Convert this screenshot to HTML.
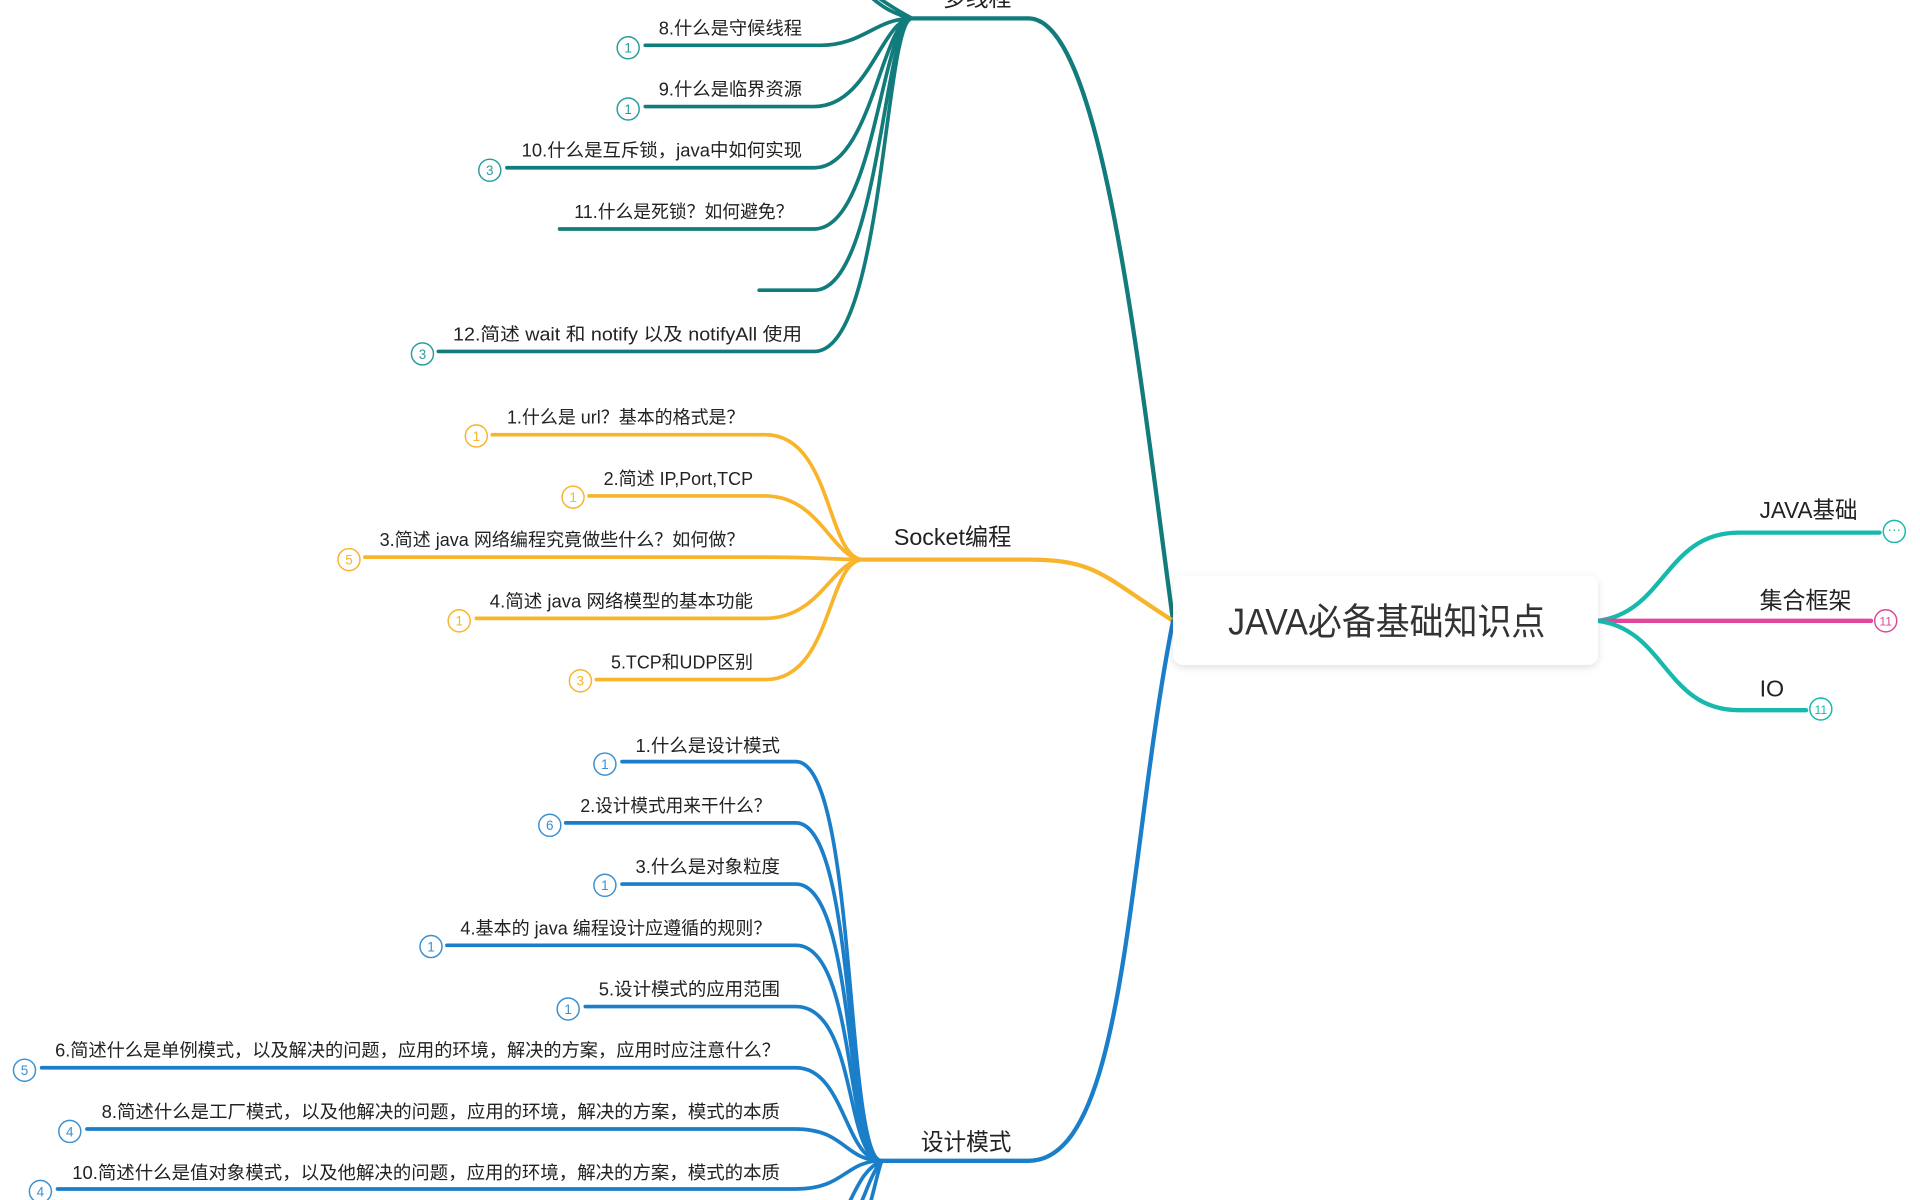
<!DOCTYPE html>
<html><head><meta charset="utf-8"><style>
html,body{margin:0;padding:0;background:#fff;width:1920px;height:1200px;overflow:hidden}
svg{display:block}
text{font-family:"Liberation Sans","Noto Sans CJK SC",sans-serif;fill:#222}
.l{font-size:15px}
.b{font-size:19px}
.c{font-size:11px;text-anchor:middle}
</style></head><body>
<svg width="1920" height="1200" viewBox="0 0 1568 980" xmlns="http://www.w3.org/2000/svg">
<defs><filter id="sh" x="-10%" y="-20%" width="120%" height="150%"><feDropShadow dx="0" dy="2" stdDeviation="3" flood-color="#000" flood-opacity="0.12"/></filter></defs>
<g fill="none" stroke-linecap="round">
<g stroke="#127b7b" stroke-width="3">
<path d="M958,507 C930,300 900,15 840,15 H745" stroke-width="3.5"/>
<path d="M527,37 H670 C705,37 715,15 745,15"/>
<path d="M527,87 H665 C710,87 720,15 745,15"/>
<path d="M414,137 H665 C712,137 720,15 745,15"/>
<path d="M457,187 H665 C715,187 720,15 745,15"/>
<path d="M620,237 H665 C718,237 722,15 745,15"/>
<path d="M358,287 H665 C722,287 722,15 745,15"/>
<path d="M745,15 C725,5 715,-5 700,-12"/>
<path d="M745,15 C720,10 710,-5 690,-20"/>
</g>
<g stroke="#f8b42a" stroke-width="3">
<path d="M958,507 C900,470 895,457 840,457 H705" stroke-width="3.5"/>
<path d="M402,355 H625 C680,355 675,457 705,457"/>
<path d="M481,405 H625 C670,405 680,457 705,457"/>
<path d="M298,455 H625 C670,455 680,457 705,457"/>
<path d="M389,505 H625 C670,505 680,457 705,457"/>
<path d="M487,555 H625 C680,555 675,457 705,457"/>
</g>
<g stroke="#1a7ec9" stroke-width="3">
<path d="M958,507 C920,700 920,948 840,948 H720" stroke-width="3.5"/>
<path d="M508,622 H650 C700,622 690,948 720,948"/>
<path d="M462,672 H650 C700,672 690,948 720,948"/>
<path d="M508,722 H650 C700,722 690,948 720,948"/>
<path d="M365,772 H650 C700,772 690,948 720,948"/>
<path d="M478,822 H650 C700,822 690,948 720,948"/>
<path d="M34,872 H650 C690,872 690,948 720,948"/>
<path d="M71,922 H650 C690,922 690,948 720,948"/>
<path d="M47,971 H650 C690,971 690,948 720,948"/>
<path d="M720,948 C705,955 700,970 692,985"/>
<path d="M720,948 C712,958 708,972 702,985"/>
<path d="M720,948 C716,960 714,972 710,985"/>
</g>
<path d="M1305,507 C1360,500 1360,435 1420,435 H1535" stroke="#17b9ac" stroke-width="3.5"/>
<path d="M1305,507 H1528" stroke="#e0479a" stroke-width="3.5"/>
<path d="M1305,507 C1360,514 1360,580 1420,580 H1475" stroke="#17b9ac" stroke-width="3.5"/>
</g>
<rect x="958" y="470" width="347" height="73" rx="8" fill="#fff" filter="url(#sh)"/>
<text x="1003" y="518" style="font-size:30px;fill:#333" textLength="259" lengthAdjust="spacingAndGlyphs">JAVA必备基础知识点</text>
<text class="b" x="1437" y="423" textLength="80" lengthAdjust="spacingAndGlyphs">JAVA基础</text>
<text class="b" x="1437" y="497" textLength="75" lengthAdjust="spacingAndGlyphs">集合框架</text>
<text class="b" x="1437" y="569">IO</text>
<text class="b" x="770" y="5" textLength="56" lengthAdjust="spacingAndGlyphs">多线程</text>
<text class="b" x="730" y="445" textLength="96" lengthAdjust="spacingAndGlyphs">Socket编程</text>
<text class="b" x="752" y="939" textLength="74" lengthAdjust="spacingAndGlyphs">设计模式</text>
<g class="l">
<text class="l" x="538" y="28" textLength="117" lengthAdjust="spacingAndGlyphs">8.什么是守候线程</text>
<text class="l" x="538" y="78" textLength="117" lengthAdjust="spacingAndGlyphs">9.什么是临界资源</text>
<text class="l" x="426" y="128" textLength="229" lengthAdjust="spacingAndGlyphs">10.什么是互斥锁，java中如何实现</text>
<text class="l" x="469" y="178" textLength="179" lengthAdjust="spacingAndGlyphs">11.什么是死锁？如何避免？</text>
<text class="l" x="370" y="278" textLength="285" lengthAdjust="spacingAndGlyphs">12.简述 wait 和 notify 以及 notifyAll 使用</text>
<text class="l" x="414" y="346" textLength="194" lengthAdjust="spacingAndGlyphs">1.什么是 url？基本的格式是？</text>
<text class="l" x="493" y="396" textLength="122" lengthAdjust="spacingAndGlyphs">2.简述 IP,Port,TCP</text>
<text class="l" x="310" y="446" textLength="298" lengthAdjust="spacingAndGlyphs">3.简述 java 网络编程究竟做些什么？如何做？</text>
<text class="l" x="400" y="496" textLength="215" lengthAdjust="spacingAndGlyphs">4.简述 java 网络模型的基本功能</text>
<text class="l" x="499" y="546" textLength="116" lengthAdjust="spacingAndGlyphs">5.TCP和UDP区别</text>
<text class="l" x="519" y="614" textLength="118" lengthAdjust="spacingAndGlyphs">1.什么是设计模式</text>
<text class="l" x="474" y="663" textLength="156" lengthAdjust="spacingAndGlyphs">2.设计模式用来干什么？</text>
<text class="l" x="519" y="713" textLength="118" lengthAdjust="spacingAndGlyphs">3.什么是对象粒度</text>
<text class="l" x="376" y="763" textLength="254" lengthAdjust="spacingAndGlyphs">4.基本的 java 编程设计应遵循的规则？</text>
<text class="l" x="489" y="813" textLength="148" lengthAdjust="spacingAndGlyphs">5.设计模式的应用范围</text>
<text class="l" x="45" y="863" textLength="592" lengthAdjust="spacingAndGlyphs">6.简述什么是单例模式，以及解决的问题，应用的环境，解决的方案，应用时应注意什么？</text>
<text class="l" x="83" y="913" textLength="554" lengthAdjust="spacingAndGlyphs">8.简述什么是工厂模式，以及他解决的问题，应用的环境，解决的方案，模式的本质</text>
<text class="l" x="59" y="963" textLength="578" lengthAdjust="spacingAndGlyphs">10.简述什么是值对象模式，以及他解决的问题，应用的环境，解决的方案，模式的本质</text>
</g>
<g fill="#fff" stroke-width="1.2">
<g stroke="#2a9d9d"><circle cx="513" cy="39" r="9"/><circle cx="513" cy="89" r="9"/><circle cx="400" cy="139" r="9"/><circle cx="345" cy="289" r="9"/></g>
<g stroke="#f8b42a"><circle cx="389" cy="356" r="9"/><circle cx="468" cy="406" r="9"/><circle cx="285" cy="457" r="9"/><circle cx="375" cy="507" r="9"/><circle cx="474" cy="556" r="9"/></g>
<g stroke="#3a90d0"><circle cx="494" cy="624" r="9"/><circle cx="449" cy="674" r="9"/><circle cx="494" cy="723" r="9"/><circle cx="352" cy="773" r="9"/><circle cx="464" cy="824" r="9"/><circle cx="20" cy="874" r="9"/><circle cx="57" cy="924" r="9"/><circle cx="33" cy="973" r="9"/></g>
<g stroke="#17b9ac"><circle cx="1547" cy="434" r="9"/><circle cx="1487" cy="579" r="9"/></g>
<circle cx="1540" cy="507" r="9" stroke="#e0479a"/>
</g>
<g>
<text class="c" x="513" y="43" style="fill:#2a9d9d">1</text><text class="c" x="513" y="93" style="fill:#2a9d9d">1</text><text class="c" x="400" y="143" style="fill:#2a9d9d">3</text><text class="c" x="345" y="293" style="fill:#2a9d9d">3</text>
<text class="c" x="389" y="360" style="fill:#f8b42a">1</text><text class="c" x="468" y="410" style="fill:#f8b42a">1</text><text class="c" x="285" y="461" style="fill:#f8b42a">5</text><text class="c" x="375" y="511" style="fill:#f8b42a">1</text><text class="c" x="474" y="560" style="fill:#f8b42a">3</text>
<text class="c" x="494" y="628" style="fill:#3a90d0">1</text><text class="c" x="449" y="678" style="fill:#3a90d0">6</text><text class="c" x="494" y="727" style="fill:#3a90d0">1</text><text class="c" x="352" y="777" style="fill:#3a90d0">1</text><text class="c" x="464" y="828" style="fill:#3a90d0">1</text><text class="c" x="20" y="878" style="fill:#3a90d0">5</text><text class="c" x="57" y="928" style="fill:#3a90d0">4</text><text class="c" x="33" y="977" style="fill:#3a90d0">4</text>
<text class="c" x="1547" y="436" style="fill:#17b9ac">···</text><text class="c" x="1487" y="583" style="fill:#17b9ac;font-size:10px">11</text><text class="c" x="1540" y="511" style="fill:#e0479a;font-size:10px">11</text>
</g>
</svg>
</body></html>
